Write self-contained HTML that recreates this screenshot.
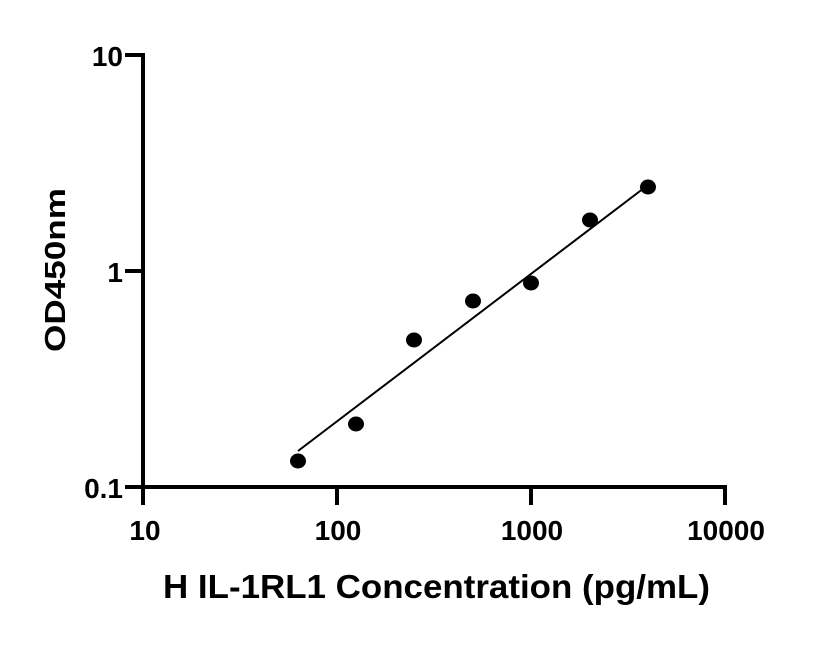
<!DOCTYPE html>
<html><head><meta charset="utf-8"><style>html,body{margin:0;padding:0;background:#fff}</style></head>
<body>
<svg width="816" height="640" viewBox="0 0 816 640" xmlns="http://www.w3.org/2000/svg" font-family="Liberation Sans, DejaVu Sans, sans-serif" font-weight="bold">
<g stroke="#000" stroke-width="4" fill="none" stroke-linecap="square">
<path d="M143 55 V487 H725"/>
<path d="M127 55 H143 M127 271 H143 M127 487 H143"/>
<path d="M143 487 V503 M337 487 V503 M531 487 V503 M725 487 V503"/>
</g>
<line x1="298" y1="451" x2="648" y2="185" stroke="#000" stroke-width="2"/>
<g fill="#000">
<ellipse cx="298" cy="461" rx="8" ry="7.5"/>
<ellipse cx="356" cy="424" rx="8" ry="7.5"/>
<ellipse cx="414" cy="340" rx="8" ry="7.5"/>
<ellipse cx="473" cy="301" rx="8" ry="7.5"/>
<ellipse cx="531" cy="283" rx="8" ry="7.5"/>
<ellipse cx="590" cy="220" rx="8" ry="7.5"/>
<ellipse cx="648" cy="187" rx="8" ry="7.5"/>
</g>
<g font-size="28" text-anchor="end">
<text x="123" y="66">10</text>
<text x="123" y="282">1</text>
<text x="123" y="498">0.1</text>
</g>
<g font-size="28" text-anchor="middle">
<text x="145" y="540">10</text>
<text x="338" y="540">100</text>
<text x="532" y="540">1000</text>
<text x="726" y="540">10000</text>
</g>
<text x="163" y="598" font-size="33" textLength="547" lengthAdjust="spacingAndGlyphs">H IL-1RL1 Concentration (pg/mL)</text>
<text transform="translate(65,270) rotate(-90)" font-size="29" text-anchor="middle" textLength="164" lengthAdjust="spacingAndGlyphs">OD450nm</text>
</svg>
</body></html>
